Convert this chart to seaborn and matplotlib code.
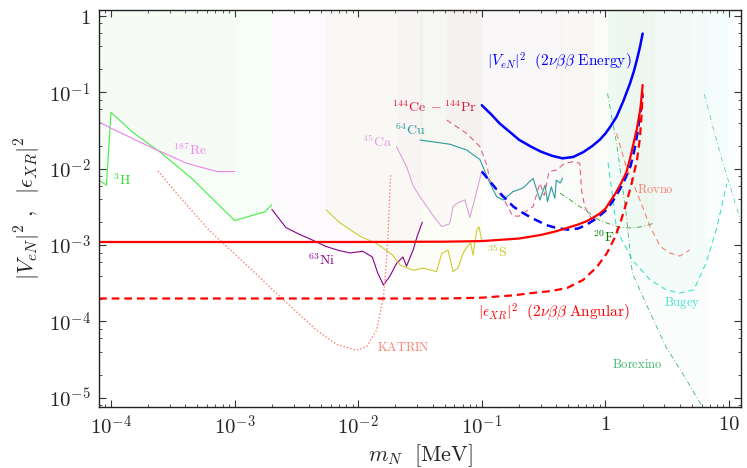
import math
import matplotlib
matplotlib.use("Agg")
import matplotlib.pyplot as plt
import seaborn as sns
from matplotlib.ticker import LogLocator, FuncFormatter, NullFormatter

# m_N in MeV, mixing values
# 2nu-beta-beta limits
energy_m = [0.1, 0.12, 0.14, 0.17, 0.2, 0.25, 0.3, 0.37, 0.45, 0.55, 0.66, 0.78, 0.9, 1.0,
            1.1, 1.23, 1.4, 1.58, 1.7, 1.8, 1.9, 2.0]
energy_v = [0.068, 0.051, 0.039, 0.03, 0.024, 0.0195, 0.0168, 0.0148, 0.0137, 0.0143, 0.0165,
            0.0198, 0.024, 0.029, 0.036, 0.048, 0.078, 0.131, 0.19, 0.27, 0.39, 0.59]

energy_dash_m = [0.1, 0.115, 0.13, 0.15, 0.18, 0.21, 0.25, 0.33, 0.4, 0.49, 0.6, 0.7, 0.85,
                 1.02, 1.15, 1.3, 1.45, 1.6, 1.72, 1.82, 1.93, 2.0]
energy_dash_v = [9.2e-3, 7.0e-3, 5.5e-3, 4.3e-3, 3.2e-3, 2.7e-3, 2.3e-3, 1.84e-3, 1.68e-3,
                 1.6e-3, 1.65e-3, 1.84e-3, 2.25e-3, 2.9e-3, 3.8e-3, 5.3e-3, 7.5e-3, 0.011,
                 0.018, 0.03, 0.059, 0.092]

angular_m = [8e-5, 1e-3, 1e-2, 0.05, 0.1, 0.2, 0.3, 0.4, 0.5, 0.6, 0.7, 0.8, 0.9, 1.0, 1.1,
             1.2, 1.3, 1.47, 1.58, 1.67, 1.8, 1.92, 2.0]
angular_v = [1.1e-3, 1.1e-3, 1.1e-3, 1.11e-3, 1.13e-3, 1.22e-3, 1.36e-3, 1.52e-3, 1.7e-3,
             1.86e-3, 2.05e-3, 2.3e-3, 2.6e-3, 3.0e-3, 3.8e-3, 4.7e-3, 5.9e-3, 8.8e-3, 0.0135,
             0.02, 0.034, 0.062, 0.125]

angular_dash_m = [8e-5, 1e-3, 1e-2, 0.05, 0.1, 0.18, 0.26, 0.36, 0.49, 0.66, 0.855, 1.03, 1.2,
                  1.35, 1.5, 1.65, 1.8, 1.9, 1.96, 2.0]
angular_dash_v = [2.0e-4, 2.0e-4, 2.0e-4, 2.0e-4, 2.05e-4, 2.2e-4, 2.37e-4, 2.5e-4, 2.75e-4,
                  3.5e-4, 5.2e-4, 7.9e-4, 1.29e-3, 2.2e-3, 3.9e-3, 7.0e-3, 0.013, 0.025, 0.05, 0.1]

# beta-decay kink searches
h3_m = [8e-5, 9.2e-5, 1e-4, 1.5e-4, 2.5e-4, 4.5e-4, 1e-3, 1.33e-3, 1.77e-3, 2e-3]
h3_v = [7.1e-3, 6.1e-3, 0.055, 0.03, 0.0165, 7.5e-3, 2.1e-3, 2.4e-3, 2.75e-3, 3.4e-3]

re_m = [8e-5, 1e-4, 2.2e-4, 4.1e-4, 7.2e-4, 1e-3]
re_v = [0.041, 0.034, 0.0185, 0.0118, 9.2e-3, 9.2e-3]

ni_m = [2.0e-3, 2.6e-3, 3.3e-3, 4.1e-3, 5.5e-3, 7e-3, 8.6e-3, 1.09e-2, 1.3e-2, 1.44e-2, 1.6e-2,
        1.8e-2, 2.05e-2, 2.3e-2, 2.46e-2, 2.78e-2, 3.0e-2, 3.3e-2]
ni_v = [2.95e-3, 1.7e-3, 1.4e-3, 1.2e-3, 9.6e-4, 8.5e-4, 7.9e-4, 8.3e-4, 7.0e-4, 4.3e-4, 3.0e-4,
        3.9e-4, 5.8e-4, 7.0e-4, 5.3e-4, 8.6e-4, 1.3e-3, 2.0e-3]

s_m = [5.5e-3, 7e-3, 8.6e-3, 1.04e-2, 0.0141, 0.019, 0.0218, 0.0277, 0.0334, 0.0431, 0.0474,
       0.0533, 0.0585, 0.0642, 0.0704, 0.0759, 0.0813, 0.0849, 0.091, 0.0949, 0.0998]
s_v = [2.9e-3, 2.0e-3, 1.6e-3, 1.3e-3, 1.05e-3, 7.4e-4, 5.5e-4, 4.7e-4, 5.0e-4, 4.5e-4, 7.8e-4,
       8.6e-4, 4.5e-4, 5.0e-4, 7.8e-4, 9.5e-4, 1.07e-3, 7.4e-4, 1.58e-3, 1.73e-3, 1.17e-3]

ca_m = [0.0204, 0.0246, 0.0278, 0.0316, 0.0406, 0.0474, 0.055, 0.0585, 0.0642, 0.073, 0.080,
        0.088, 0.0966, 0.1]
ca_v = [0.0195, 0.0107, 6.0e-3, 4.3e-3, 2.4e-3, 1.75e-3, 1.9e-3, 3.2e-3, 3.6e-3, 3.9e-3, 2.3e-3,
        4.1e-3, 7.5e-3, 9.5e-3]

cu_m = [0.0316, 0.055, 0.0755, 0.0966, 0.116, 0.132, 0.149, 0.178, 0.215, 0.26, 0.295, 0.325,
        0.34, 0.365, 0.39, 0.40, 0.43, 0.45]
cu_v = [0.0238, 0.021, 0.0176, 0.0132, 6.5e-3, 4.3e-3, 3.9e-3, 5.0e-3, 5.6e-3, 7.5e-3, 3.9e-3,
        6.1e-3, 3.7e-3, 5.8e-3, 4.1e-3, 7.1e-3, 6.5e-3, 7.5e-3]

cepr_m = [0.052, 0.0755, 0.0966, 0.11, 0.116, 0.149, 0.178, 0.2, 0.26, 0.295, 0.32, 0.35, 0.40,
          0.47, 0.55, 0.62, 0.64, 0.68, 0.75, 0.80]
cepr_v = [0.0435, 0.029, 0.0195, 0.011, 7.0e-3, 4.1e-3, 2.4e-3, 2.4e-3, 3.2e-3, 6.5e-3, 4.5e-3,
          9.2e-3, 9.6e-3, 0.0118, 0.0124, 0.0118, 5.3e-3, 3.2e-3, 2.4e-3, 1.9e-3]

f20_m = [0.43, 0.62, 0.9, 1.3, 1.65, 2.0, 2.5]
f20_v = [4.8e-3, 3.2e-3, 2.1e-3, 1.7e-3, 1.68e-3, 1.75e-3, 1.95e-3]

katrin_m = [2.4e-4, 3.5e-4, 6.2e-4, 1.28e-3, 2.5e-3, 4.6e-3, 6.7e-3, 9.7e-3, 0.0117, 0.0141,
            0.016, 0.0169, 0.0175, 0.0183]
katrin_v = [9.4e-3, 4.5e-3, 1.58e-3, 5.3e-4, 1.9e-4, 7.7e-5, 5.0e-5, 4.2e-5, 4.7e-5, 7.7e-5,
            2.1e-4, 5.8e-4, 1.58e-3, 8.3e-3]

# reactor / solar
rovno_m = [1.23, 1.47, 1.9, 2.3, 2.78, 3.3, 4.0, 4.8]
rovno_v = [0.029, 0.0107, 3.9e-3, 1.74e-3, 9.6e-4, 7.9e-4, 7.2e-4, 8.6e-4]

bugey_m = [1.05, 1.15, 1.23, 1.65, 2.3, 3.1, 4.0, 5.2, 6.5, 7.9, 9.6]
bugey_v = [0.012, 4e-3, 1.6e-3, 6.4e-4, 3.5e-4, 2.6e-4, 2.36e-4, 2.6e-4, 5.8e-4, 1.6e-3, 6.4e-3]

borex_m = [1.04, 1.23, 1.47, 1.65, 2.3, 3.1, 4.2, 5.8, 6.6]
borex_v = [0.097, 0.0216, 2.6e-3, 4.3e-4, 1.3e-4, 4.6e-5, 2.1e-5, 8.7e-6, 6e-6]

borex2_m = [6.3, 8.6, 12.4]
borex2_v = [0.095, 0.0145, 2.1e-3]

sns.set_style("ticks")
plt.rcParams['mathtext.fontset'] = 'cm'
plt.rcParams['font.family'] = ['DejaVu Serif']

fig = plt.figure(figsize=(7.47, 4.68), dpi=100)
ax = fig.add_axes([0.1325, 0.1314, 0.8595, 0.8483])
ax.set_xscale('log')
ax.set_yscale('log')

TOP = 2.0

# faint excluded regions above each experimental curve
fills = [(h3_m, h3_v, '#44ee44', 0.04), (re_m, re_v, 'violet', 0.02),
         (ni_m, ni_v, 'darkmagenta', 0.02), (s_m, s_v, '#cccc33', 0.04),
         (ca_m, ca_v, 'plum', 0.04), (cu_m, cu_v, 'teal', 0.02),
         (cepr_m, cepr_v, 'crimson', 0.02), (f20_m, f20_v, 'green', 0.025),
         (rovno_m, rovno_v, 'salmon', 0.02), (bugey_m, bugey_v, 'turquoise', 0.03),
         (borex_m, borex_v, 'mediumseagreen', 0.025), (borex2_m, borex2_v, 'turquoise', 0.02)]
for m, v, c, a in fills:
    ax.fill_between(m, v, TOP, color=c, alpha=a, lw=0)

thin = dict(estimator=None, sort=False, ax=ax)
sns.lineplot(x=h3_m, y=h3_v, color='#44ee44', lw=0.8, **thin)
sns.lineplot(x=re_m, y=re_v, color='violet', lw=0.8, **thin)
sns.lineplot(x=ni_m, y=ni_v, color='darkmagenta', lw=0.8, **thin)
sns.lineplot(x=s_m, y=s_v, color='#cccc33', lw=0.8, **thin)
sns.lineplot(x=ca_m, y=ca_v, color='plum', lw=0.8, **thin)
sns.lineplot(x=cu_m, y=cu_v, color='#2a9d9d', lw=0.8, **thin)
sns.lineplot(x=cepr_m, y=cepr_v, color='#e06080', lw=0.8, dashes=(5, 3.5), **thin)
sns.lineplot(x=f20_m, y=f20_v, color='#339933', lw=0.6, dashes=(6, 3, 1, 3), **thin)
sns.lineplot(x=katrin_m, y=katrin_v, color='salmon', lw=1.0, dashes=(1, 1.5), **thin)
sns.lineplot(x=rovno_m, y=rovno_v, color='salmon', lw=0.8, dashes=(5, 3.5), **thin)
sns.lineplot(x=bugey_m, y=bugey_v, color='turquoise', lw=0.8, dashes=(5, 3.5), **thin)
sns.lineplot(x=borex_m, y=borex_v, color='mediumseagreen', lw=0.6, dashes=(6, 3, 1, 3), **thin)
sns.lineplot(x=borex2_m, y=borex2_v, color='mediumaquamarine', lw=0.6, dashes=(6, 3, 1, 3), **thin)

sns.lineplot(x=energy_m, y=energy_v, color='blue', lw=1.8, **thin)
sns.lineplot(x=energy_dash_m, y=energy_dash_v, color='blue', lw=1.8, dashes=(3.5, 2.2), **thin)
sns.lineplot(x=angular_m, y=angular_v, color='red', lw=1.6, **thin)
sns.lineplot(x=angular_dash_m, y=angular_dash_v, color='red', lw=1.6, dashes=(3.5, 2.2), **thin)

# labels
ax.text(0.11, 0.25, r'$|V_{eN}|^2\ \ (2\nu\beta\beta\ \mathrm{Energy})$', color='blue', fontsize=11, va='center')
ax.text(0.093, 1.3e-4, r'$|\epsilon_{XR}|^2\ \ (2\nu\beta\beta\ \mathrm{Angular})$', color='red', fontsize=11, va='center')
ax.text(0.0187, 0.064, r'$^{144}\mathrm{Ce}\ -^{144}\mathrm{Pr}$', color='crimson', fontsize=10, va='center')
ax.text(0.0199, 0.032, r'$^{64}\mathrm{Cu}$', color='#2a9d9d', fontsize=10, va='center')
ax.text(0.0107, 0.0226, r'$^{45}\mathrm{Ca}$', color='plum', fontsize=10, va='center')
ax.text(3.2e-4, 0.0176, r'$^{187}\mathrm{Re}$', color='violet', fontsize=10, va='center')
ax.text(1.04e-4, 7.1e-3, r'$^{3}\mathrm{H}$', color='#33dd33', fontsize=10, va='center')
ax.text(3.9e-3, 6.4e-4, r'$^{63}\mathrm{Ni}$', color='darkmagenta', fontsize=10, va='center')
ax.text(0.11, 8.2e-4, r'$^{35}\mathrm{S}$', color='#c8c820', fontsize=10, va='center')
ax.text(0.79, 1.29e-3, r'$^{20}\mathrm{F}$', color='green', fontsize=10, va='center')
ax.text(0.0141, 4.5e-5, r'$\mathrm{KATRIN}$', color='salmon', fontsize=9, va='center')
ax.text(1.79, 5.4e-3, r'$\mathrm{Rovno}$', color='salmon', fontsize=9, va='center')
ax.text(4.2, 1.74e-4, r'$\mathrm{Bugey}$', color='turquoise', fontsize=9, va='center', ha='center')
ax.text(1.82, 2.7e-5, r'$\mathrm{Borexino}$', color='mediumseagreen', fontsize=9, va='center', ha='center')

ax.set_xlim(8.0e-5, 12.5)
ax.set_ylim(7.7e-6, 1.22)


def log_fmt(val, pos):
    e = int(round(math.log10(val)))
    if e == 0:
        return r'$1$'
    if e == 1:
        return r'$10$'
    return r'$10^{%d}$' % e


ax.xaxis.set_major_locator(LogLocator(base=10, numticks=12))
ax.xaxis.set_minor_locator(LogLocator(base=10, subs=range(2, 10), numticks=12))
ax.yaxis.set_major_locator(LogLocator(base=10, numticks=12))
ax.yaxis.set_minor_locator(LogLocator(base=10, subs=(2, 4, 6, 8), numticks=12))
ax.xaxis.set_major_formatter(FuncFormatter(log_fmt))
ax.yaxis.set_major_formatter(FuncFormatter(log_fmt))
ax.xaxis.set_minor_formatter(NullFormatter())
ax.yaxis.set_minor_formatter(NullFormatter())

ax.tick_params(which='both', direction='in', top=True, right=True, color='#333333', labelsize=15)
ax.tick_params(which='major', length=5, width=0.8, pad=6)
ax.tick_params(which='minor', length=2.5, width=0.6)
for s in ax.spines.values():
    s.set_color('#222222')
    s.set_linewidth(1.0)

ax.set_xlabel(r'$m_N\ \ [\mathrm{MeV}]$', fontsize=16, labelpad=2)
ax.set_ylabel(r'$|V_{eN}|^2\ ,\ \ |\epsilon_{XR}|^2$', fontsize=16, labelpad=4)

fig.savefig('out.png', dpi=100)
